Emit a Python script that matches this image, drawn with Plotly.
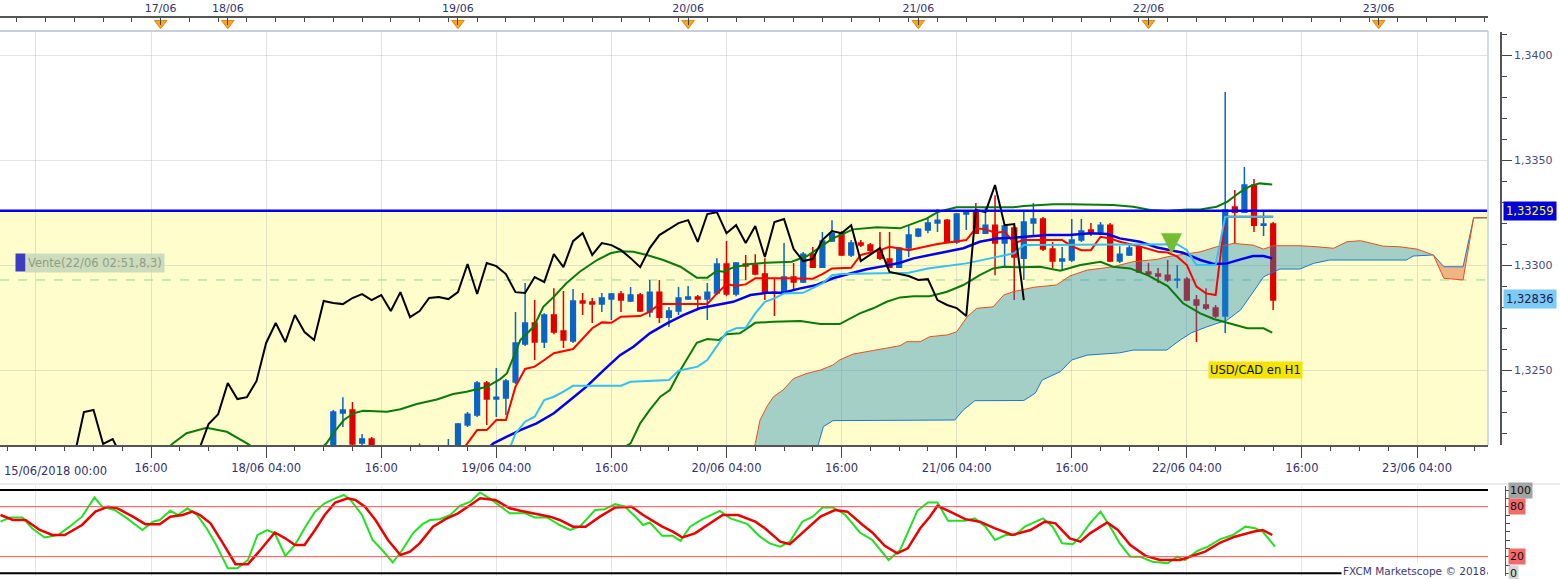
import plotly.graph_objects as go

# ---- donnees (USD/CAD, H1) ----
# index de barre horaire : 16 = 15/06 16:00, 28 = 18/06 04:00, ...
bar_t = list(range(26, 134))
open_px = [1.31920, 1.31940, 1.31920, 1.31950, 1.31970, 1.31990, 1.32020, 1.32040, 1.32060,
           1.32090, 1.32295, 1.32310, 1.32152, 1.32171, 1.32080, 1.32060, 1.32050, 1.32040, 1.32100, 1.32070, 1.32100, 1.32080,
           1.32120, 1.32238, 1.32286, 1.32438, 1.32362, 1.32367, 1.32443, 1.32624, 1.32724, 1.32633, 1.32762, 1.32686, 1.32638,
           1.32829, 1.32824, 1.32814, 1.32838, 1.32862, 1.32829, 1.32857, 1.32776, 1.32871, 1.32752, 1.32781, 1.32838, 1.32848,
           1.32838, 1.32867, 1.33005, 1.32862, 1.33005, 1.33000, 1.32957, 1.32871, 1.32871, 1.32943, 1.32919, 1.33052, 1.32990,
           1.33114, 1.33152, 1.33048, 1.33105, 1.33095, 1.33071, 1.33029, 1.32990, 1.33081, 1.33138, 1.33167, 1.33200, 1.33214,
           1.33110, 1.33243, 1.33252, 1.33152, 1.33190, 1.33105, 1.33176, 1.33033, 1.33200, 1.33219, 1.33076, 1.33019, 1.33024,
           1.33119, 1.33167, 1.33152, 1.33190, 1.33019, 1.33048, 1.33086, 1.32967, 1.32957, 1.32952, 1.32929, 1.32933, 1.32833,
           1.32810, 1.32795, 1.32757, 1.33276, 1.33252, 1.33381, 1.33190, 1.33195]
high_px = [1.31960, 1.31970, 1.31960, 1.31990, 1.32010, 1.32030, 1.32060, 1.32080, 1.32110,
           1.32310, 1.32371, 1.32348, 1.32195, 1.32181, 1.32120, 1.32110, 1.32100, 1.32110, 1.32150, 1.32120, 1.32130, 1.32171,
           1.32248, 1.32300, 1.32448, 1.32448, 1.32510, 1.32457, 1.32776, 1.32914, 1.32833, 1.32771, 1.32890, 1.32876, 1.32886,
           1.32867, 1.32843, 1.32867, 1.32867, 1.32876, 1.32895, 1.32867, 1.32929, 1.32929, 1.32800, 1.32895, 1.32900, 1.32857,
           1.32914, 1.33033, 1.33114, 1.33014, 1.33048, 1.33052, 1.33033, 1.32938, 1.33105, 1.33010, 1.33062, 1.33086, 1.33157,
           1.33214, 1.33162, 1.33119, 1.33119, 1.33105, 1.33157, 1.33157, 1.33086, 1.33190, 1.33176, 1.33224, 1.33267, 1.33219,
           1.33248, 1.33257, 1.33295, 1.33271, 1.33333, 1.33195, 1.33186, 1.33262, 1.33295, 1.33229, 1.33110, 1.33086, 1.33219,
           1.33219, 1.33200, 1.33205, 1.33200, 1.33090, 1.33100, 1.33095, 1.33010, 1.32986, 1.33024, 1.33000, 1.32943, 1.32857,
           1.32890, 1.32810, 1.33824, 1.33357, 1.33467, 1.33410, 1.33257, 1.33205]
low_px = [1.31890, 1.31900, 1.31880, 1.31920, 1.31940, 1.31960, 1.31990, 1.32010, 1.32030,
          1.32050, 1.32229, 1.32080, 1.32133, 1.32040, 1.32030, 1.32020, 1.32010, 1.32000, 1.32040, 1.32030, 1.32050, 1.32040,
          1.32100, 1.32229, 1.32276, 1.32238, 1.32276, 1.32286, 1.32433, 1.32614, 1.32548, 1.32605, 1.32671, 1.32605, 1.32629,
          1.32762, 1.32724, 1.32776, 1.32738, 1.32776, 1.32824, 1.32776, 1.32752, 1.32724, 1.32705, 1.32762, 1.32833, 1.32786,
          1.32738, 1.32857, 1.32852, 1.32852, 1.32929, 1.32952, 1.32833, 1.32757, 1.32862, 1.32881, 1.32914, 1.32986, 1.32986,
          1.33110, 1.33043, 1.33038, 1.33086, 1.33062, 1.33024, 1.32986, 1.32986, 1.33038, 1.33133, 1.33152, 1.33157, 1.33105,
          1.33100, 1.33167, 1.33148, 1.33148, 1.32952, 1.32990, 1.32833, 1.32929, 1.33143, 1.33067, 1.32986, 1.32976, 1.33014,
          1.33110, 1.33138, 1.33148, 1.33014, 1.33010, 1.33043, 1.32962, 1.32952, 1.32914, 1.32919, 1.32890, 1.32829, 1.32633,
          1.32786, 1.32748, 1.32676, 1.33105, 1.33248, 1.33157, 1.33138, 1.32786]
close_px = [1.31940, 1.31920, 1.31950, 1.31970, 1.31990, 1.32020, 1.32040, 1.32060, 1.32090,
            1.32300, 1.32310, 1.32148, 1.32171, 1.32080, 1.32060, 1.32050, 1.32040, 1.32090, 1.32070, 1.32100, 1.32080, 1.32120,
            1.32243, 1.32290, 1.32438, 1.32362, 1.32371, 1.32448, 1.32629, 1.32724, 1.32633, 1.32762, 1.32681, 1.32643, 1.32829,
            1.32819, 1.32814, 1.32843, 1.32862, 1.32833, 1.32857, 1.32781, 1.32871, 1.32752, 1.32781, 1.32843, 1.32848, 1.32838,
            1.32871, 1.33005, 1.32862, 1.33010, 1.32995, 1.32957, 1.32871, 1.32867, 1.32943, 1.32919, 1.33052, 1.32990, 1.33114,
            1.33152, 1.33048, 1.33105, 1.33095, 1.33071, 1.33033, 1.32990, 1.33081, 1.33143, 1.33171, 1.33200, 1.33214, 1.33110,
            1.33243, 1.33252, 1.33152, 1.33190, 1.33105, 1.33186, 1.33038, 1.33205, 1.33219, 1.33076, 1.33019, 1.33029, 1.33119,
            1.33162, 1.33152, 1.33190, 1.33019, 1.33052, 1.33081, 1.32967, 1.32957, 1.32948, 1.32929, 1.32933, 1.32833, 1.32810,
            1.32795, 1.32757, 1.33262, 1.33252, 1.33381, 1.33190, 1.33195, 1.32833]
chikou_shift = 26

tenkan_t = [48, 49, 50, 51, 52, 53, 54, 55, 56, 57, 58, 60, 61, 62, 63, 64, 65, 67, 68, 69, 74, 75, 76, 77, 78, 79,
            82, 85, 86, 87, 89, 90, 92, 93, 94, 95, 98, 101, 102, 103, 104, 105, 106, 107, 111, 112, 113, 114, 115,
            116, 117, 118, 119, 121, 122, 123, 124, 125, 126, 127, 128, 133]
tenkan_v = [1.32090, 1.32151, 1.32214, 1.32214, 1.32262, 1.32262, 1.32421, 1.32505, 1.32516, 1.32548, 1.32580,
            1.32600, 1.32651, 1.32699, 1.32727, 1.32725, 1.32754, 1.32757, 1.32778, 1.32814, 1.32814, 1.32865, 1.32908,
            1.32901, 1.32908, 1.32937, 1.32937, 1.32935, 1.32957, 1.32984, 1.32987, 1.33048, 1.33071, 1.33087, 1.33079,
            1.33071, 1.33100, 1.33119, 1.33175, 1.33170, 1.33154, 1.33159, 1.33105, 1.33119, 1.33119, 1.33090, 1.33071,
            1.33071, 1.33135, 1.33127, 1.33111, 1.33100, 1.33090, 1.33063, 1.33060, 1.33040, 1.33000, 1.32897, 1.32865,
            1.32857, 1.33230, 1.33230]

kijun_t = [53, 54, 55, 56, 57, 58, 59, 60, 65, 66, 70, 71, 73, 74, 76, 77, 78, 79, 80, 81, 82, 84, 86, 87, 88,
           95, 97, 101, 103, 106, 107, 123, 124, 125, 127, 128, 133]
kijun_v = [1.32080, 1.32198, 1.32254, 1.32278, 1.32357, 1.32373, 1.32397, 1.32425, 1.32425, 1.32444, 1.32452,
           1.32497, 1.32516, 1.32548, 1.32680, 1.32699, 1.32701, 1.32770, 1.32825, 1.32841, 1.32865, 1.32868, 1.32913,
           1.32952, 1.32957, 1.32963, 1.32984, 1.33008, 1.33027, 1.33056, 1.33095, 1.33099, 1.33071, 1.33000, 1.33000,
           1.33230, 1.33230]

ma_t = [50.0, 51.7, 53.1, 54.5, 56.2, 58.0, 59.7, 61.4, 63.2, 64.9, 66.3, 68.0, 69.8, 71.5, 73.2, 75.0, 76.7, 78.5,
        80.2, 81.9, 83.7, 85.4, 87.1, 88.9, 90.6, 92.4, 94.1, 95.5, 97.2, 99.0, 100.7, 102.4, 104.2, 105.9, 107.7,
        109.4, 111.8, 113.9, 115.7, 117.0, 119.1, 120.9, 123.6, 125.4, 126.8, 128.2, 129.6, 130.9, 132.0, 132.9]
ma_v = [1.32080, 1.32151, 1.32183, 1.32214, 1.32246, 1.32294, 1.32357, 1.32421, 1.32500, 1.32571, 1.32611, 1.32675,
        1.32722, 1.32762, 1.32794, 1.32810, 1.32825, 1.32857, 1.32868, 1.32868, 1.32889, 1.32905, 1.32937, 1.32960,
        1.32980, 1.32995, 1.33011, 1.33032, 1.33048, 1.33063, 1.33080, 1.33111, 1.33127, 1.33130, 1.33138, 1.33143,
        1.33143, 1.33151, 1.33148, 1.33127, 1.33111, 1.33084, 1.33059, 1.33024, 1.33005, 1.33008, 1.33027, 1.33043,
        1.33043, 1.33032]

bb_up_t = [16.0, 18.3, 19.7, 21.8, 23.9, 26.0, 29.0, 32.5, 34.3, 35.0, 36.1, 37.1, 38.1, 40.6, 42.0, 43.7, 45.8,
           47.5, 48.9, 51.0, 52.4, 53.1, 53.8, 54.5, 55.9, 56.9, 58.0, 59.3, 60.7, 62.5, 63.9, 64.9, 66.3, 67.7,
           69.4, 71.2, 72.9, 74.0, 75.0, 75.7, 76.7, 78.5, 80.2, 82.8, 84.4, 85.8, 87.1, 89.2, 91.7, 94.1, 95.5,
           96.9, 98.1, 100.0, 105.9, 107.0, 110.1, 111.8, 116.3, 118.4, 120.2, 121.9, 124.0, 125.4, 127.1, 128.2,
           129.6, 130.6, 131.6, 132.9]
bb_up_v = [1.32060, 1.32151, 1.32199, 1.32225, 1.32206, 1.32151, 1.32060, 1.32080, 1.32151, 1.32199, 1.32262,
           1.32294, 1.32306, 1.32301, 1.32313, 1.32338, 1.32360, 1.32386, 1.32397, 1.32420, 1.32457, 1.32484,
           1.32563, 1.32643, 1.32706, 1.32801, 1.32849, 1.32913, 1.32968, 1.33024, 1.33056, 1.33066, 1.33063,
           1.33048, 1.33024, 1.32992, 1.32940, 1.32940, 1.32973, 1.32968, 1.32989, 1.33005, 1.33011, 1.33016,
           1.33043, 1.33087, 1.33127, 1.33170, 1.33180, 1.33175, 1.33199, 1.33222, 1.33254, 1.33275, 1.33275,
           1.33281, 1.33290, 1.33290, 1.33286, 1.33278, 1.33262, 1.33257, 1.33265, 1.33265, 1.33278, 1.33301,
           1.33349, 1.33376, 1.33389, 1.33384]

bb_dn_t = [60.0, 66.0, 67.0, 68.0, 69.1, 70.1, 71.2, 72.2, 72.9, 74.0, 75.2, 76.0, 77.4, 79.0, 80.9, 83.7, 85.8,
           87.8, 89.9, 91.3, 92.7, 94.1, 95.5, 97.2, 99.0, 100.7, 102.4, 103.8, 104.9, 106.6, 108.7, 110.8, 112.9,
           115.0, 116.3, 118.1, 120.0, 122.0, 123.6, 125.4, 126.8, 128.5, 130.3, 132.0, 132.9]
bb_dn_v = [1.31980, 1.32151, 1.32246, 1.32310, 1.32373, 1.32405, 1.32500, 1.32580, 1.32630, 1.32648, 1.32643,
           1.32671, 1.32675, 1.32725, 1.32730, 1.32733, 1.32719, 1.32719, 1.32770, 1.32794, 1.32825, 1.32846,
           1.32852, 1.32852, 1.32873, 1.32905, 1.32952, 1.32984, 1.32992, 1.32989, 1.32992, 1.32973, 1.33000,
           1.33016, 1.32992, 1.32984, 1.32950, 1.32900, 1.32818, 1.32770, 1.32743, 1.32722, 1.32699, 1.32699,
           1.32678]

span_a_t = [75.0, 78.5, 79.0, 79.5, 80.2, 80.9, 81.9, 83.0, 84.4, 85.8, 87.1, 87.8, 89.2, 90.6, 92.4, 94.1, 94.8,
            96.2, 97.2, 99.0, 100.0, 101.1, 102.1, 103.8, 104.9, 105.9, 108.0, 110.4, 111.8, 113.6, 115.0, 116.3,
            118.4, 120.9, 122.0, 124.0, 125.4, 127.1, 128.9, 130.9, 132.0, 133.0, 135.8, 137.6, 139.3, 140.7, 142.1,
            144.5, 146.2, 148.0, 149.7, 150.8, 152.8, 153.9, 155.3]
span_a_v = [1.31960, 1.32060, 1.32151, 1.32262, 1.32325, 1.32373, 1.32405, 1.32460, 1.32484, 1.32500, 1.32524,
            1.32548, 1.32576, 1.32587, 1.32603, 1.32616, 1.32635, 1.32635, 1.32659, 1.32667, 1.32682, 1.32754,
            1.32794, 1.32801, 1.32857, 1.32873, 1.32894, 1.32905, 1.32948, 1.32976, 1.32984, 1.32992, 1.33016,
            1.33027, 1.33040, 1.33052, 1.33063, 1.33087, 1.33103, 1.33095, 1.33076, 1.33092, 1.33092, 1.33087,
            1.33080, 1.33111, 1.33116, 1.33090, 1.33087, 1.33076, 1.33048, 1.32937, 1.32929, 1.33225, 1.33225]

span_b_t = [75.0, 85.0, 85.6, 86.1, 87.1, 99.8, 100.7, 101.9, 107.0, 108.2, 108.9, 110.8, 112.0, 113.6, 117.0,
            118.4, 121.9, 123.3, 124.5, 126.1, 128.2, 129.6, 131.3, 132.0, 133.7, 135.8, 137.2, 138.9, 146.9,
            147.6, 149.7, 150.8, 152.8, 153.9, 155.3]
span_b_v = [1.31900, 1.32000, 1.32151, 1.32230, 1.32259, 1.32262, 1.32310, 1.32354, 1.32355, 1.32390, 1.32452,
            1.32492, 1.32548, 1.32571, 1.32582, 1.32595, 1.32595, 1.32643, 1.32678, 1.32706, 1.32738, 1.32786,
            1.32897, 1.32944, 1.32981, 1.32981, 1.33008, 1.33024, 1.33024, 1.33043, 1.33048, 1.32992, 1.32992,
            1.33225, 1.33225]

stoch_k_t = [0.3, 1.3, 2.6, 3.6, 4.9, 6.3, 7.5, 8.8, 10.1, 10.9, 12.2, 13.5, 15.1, 16.2, 16.9, 18.0, 18.8, 19.8,
             20.8, 21.9, 22.7, 24.0, 25.0, 26.1, 27.1, 28.1, 28.9, 30.0, 31.0, 32.1, 33.1, 34.1, 35.2, 36.1, 36.8,
             38.0, 39.1, 40.1, 41.2, 42.2, 43.3, 44.3, 45.1, 46.1, 47.2, 48.2, 49.3, 50.3, 51.3, 52.4, 53.4, 55.0,
             56.0, 57.3, 58.6, 59.7, 60.7, 62.3, 63.3, 64.4, 65.4, 66.5, 67.3, 68.0, 69.3, 70.4, 71.2, 72.2, 73.5,
             75.3, 76.4, 78.2, 79.5, 80.5, 81.6, 82.6, 83.9, 85.0, 86.0, 87.1, 88.4, 89.9, 91.2, 92.9, 94.1, 95.9,
             97.0, 98.0, 99.1, 100.9, 101.9, 103.0, 104.0, 105.1, 106.1, 107.1, 109.0, 110.0, 111.0, 112.1, 112.9,
             113.9, 115.0, 116.0, 117.0, 118.1, 119.1, 120.4, 122.0, 123.0, 123.8, 125.1, 126.2, 127.5, 128.8,
             130.1, 131.1, 131.9, 133.2]
stoch_k_v = [62, 67, 67, 54, 43, 46, 56, 68, 91, 80, 76, 66, 52, 62, 64, 75, 70, 78, 70, 52, 36, 6, 6, 16, 46,
             52, 48, 21, 34, 56, 74, 84, 90, 94, 88, 70, 40, 28, 13, 28, 48, 59, 64, 65, 70, 81, 86, 97, 90, 80,
             72, 72, 67, 67, 58, 52, 56, 76, 77, 83, 80, 68, 58, 61, 45, 45, 39, 56, 65, 75, 66, 59, 44, 36, 32,
             38, 62, 68, 79, 79, 70, 49, 40, 16, 28, 75, 85, 85, 63, 63, 66, 56, 40, 46, 46, 56, 66, 56, 36, 35,
             44, 60, 74, 56, 36, 20, 20, 14, 12, 20, 16, 27, 32, 41, 46, 56, 54, 50, 32]
stoch_d_t = [0.3, 1.6, 2.9, 4.4, 5.7, 7.0, 8.8, 10.2, 11.5, 12.5, 14.1, 15.4, 16.9, 18.0, 19.3, 20.3, 21.1, 22.2,
             23.5, 24.8, 26.1, 27.4, 28.9, 30.0, 31.0, 32.0, 33.1, 34.1, 35.2, 36.5, 37.3, 38.3, 39.4, 40.7, 42.0,
             43.0, 44.0, 45.4, 46.7, 48.0, 49.3, 50.3, 51.9, 53.4, 54.5, 56.0, 57.6, 58.6, 60.0, 61.3, 62.8, 64.4,
             66.1, 67.3, 69.3, 70.4, 71.4, 72.7, 74.3, 75.6, 77.2, 79.0, 80.0, 81.6, 82.6, 84.2, 85.8, 87.3, 88.6,
             90.2, 91.2, 92.5, 93.8, 94.9, 96.2, 97.2, 98.0, 99.3, 100.9, 102.4, 104.0, 105.8, 107.7, 109.2, 110.3,
             111.8, 112.9, 113.9, 115.7, 116.8, 118.1, 119.7, 121.2, 123.3, 124.3, 125.9, 127.5, 129.0, 130.9,
             131.9, 132.9]
stoch_d_v = [70, 64, 64, 52, 46, 46, 58, 74, 80, 78, 68, 59, 59, 68, 70, 74, 70, 60, 36, 11, 11, 28, 49, 42, 34,
             34, 52, 70, 85, 90, 88, 80, 64, 40, 22, 26, 36, 56, 65, 72, 82, 90, 88, 78, 75, 72, 68, 64, 56, 56,
             68, 79, 80, 70, 56, 50, 43, 48, 60, 70, 70, 62, 54, 38, 35, 52, 68, 76, 74, 58, 49, 33, 24, 30, 54,
             68, 81, 74, 65, 62, 54, 46, 52, 62, 60, 42, 38, 48, 61, 52, 34, 21, 16, 16, 20, 26, 37, 44, 50, 52, 46]

level_sell = 1.33259
level_last = 1.32836
level_dash = 1.32929
signal_t, signal_v = 122.4, 1.33052

time_ticks = list(range(4, 156, 12))
time_labels = ["", "16:00", "18/06 04:00", "16:00", "19/06 04:00", "16:00", "20/06 04:00", "16:00",
               "21/06 04:00", "16:00", "22/06 04:00", "16:00", "23/06 04:00"]
day_ticks = [17, 24, 48, 72, 96, 120, 144]
day_labels = ["17/06", "18/06", "19/06", "20/06", "21/06", "22/06", "23/06"]
price_ticks = [1.3250, 1.3300, 1.3350, 1.3400]
price_labels = ["1,3250", "1,3300", "1,3350", "1,3400"]

# ---- mise en page ----
X_END = 1488 / 1560
X_RANGE = [0.25, 155.4]
Y_RANGE = [1.32143, 1.34110]
FONT = "DejaVu Sans"
TXT = "#33336E"

fig = go.Figure()

# bougies (le nuage translucide passe par-dessus)
fig.add_trace(go.Candlestick(
    x=bar_t, open=open_px, high=high_px, low=low_px, close=close_px,
    increasing=dict(line=dict(color="#0A64C8", width=1.5), fillcolor="#0A64C8"),
    decreasing=dict(line=dict(color="#E00000", width=1.5), fillcolor="#E00000"),
    whiskerwidth=0))

# nuage ichimoku : remplissage translucide
ka, kb = span_a_t.index(149.7), span_b_t.index(149.7)
ka2, kb2 = span_a_t.index(153.9), span_b_t.index(153.9)
fig.add_trace(go.Scatter(x=span_b_t[:kb + 1], y=span_b_v[:kb + 1], mode="lines", line=dict(width=0)))
fig.add_trace(go.Scatter(x=span_a_t[:ka + 1], y=span_a_v[:ka + 1], mode="lines", line=dict(width=0),
                         fill="tonexty", fillcolor="rgba(27,137,193,0.4)"))
fig.add_trace(go.Scatter(x=span_b_t[kb:kb2 + 1], y=span_b_v[kb:kb2 + 1], mode="lines", line=dict(width=0)))
fig.add_trace(go.Scatter(x=span_a_t[ka:ka2 + 1], y=span_a_v[ka:ka2 + 1], mode="lines", line=dict(width=0),
                         fill="tonexty", fillcolor="rgba(222,93,42,0.45)"))
fig.add_trace(go.Scatter(x=span_b_t, y=span_b_v, mode="lines", line=dict(color="#1B7BC6", width=1)))
fig.add_trace(go.Scatter(x=span_a_t, y=span_a_v, mode="lines", line=dict(color="#E8501E", width=1)))

# bandes
fig.add_trace(go.Scatter(x=bb_up_t, y=bb_up_v, mode="lines", line=dict(color="#0A7A0A", width=2)))
fig.add_trace(go.Scatter(x=bb_dn_t, y=bb_dn_v, mode="lines", line=dict(color="#0A7A0A", width=2)))

# lignes ichimoku / moyenne
fig.add_trace(go.Scatter(x=tenkan_t, y=tenkan_v, mode="lines", line=dict(color="#FF0000", width=2)))
fig.add_trace(go.Scatter(x=ma_t, y=ma_v, mode="lines", line=dict(color="#0000EE", width=2.5)))
fig.add_trace(go.Scatter(x=kijun_t, y=kijun_v, mode="lines", line=dict(color="#33C0F5", width=2)))
fig.add_trace(go.Scatter(x=[t - chikou_shift for t in bar_t], y=close_px, mode="lines",
                         line=dict(color="#000000", width=2)))

# oscillateur
fig.add_trace(go.Scatter(x=stoch_k_t, y=stoch_k_v, mode="lines", line=dict(color="#22E022", width=2),
                         xaxis="x2", yaxis="y2"))
fig.add_trace(go.Scatter(x=stoch_d_t, y=stoch_d_v, mode="lines", line=dict(color="#EE0000", width=2.5),
                         xaxis="x2", yaxis="y2"))

# reglette du haut
fig.add_trace(go.Scatter(x=day_ticks, y=[0.6] * len(day_ticks), mode="markers", xaxis="x3", yaxis="y3",
                         marker=dict(symbol="triangle-down", size=11, color="#F7A325",
                                     line=dict(color="#E08A10", width=1))))

shapes = [
    dict(type="rect", xref="paper", yref="y", x0=0, x1=X_END, y0=Y_RANGE[0], y1=level_sell,
         fillcolor="#FFFDCB", line=dict(width=0), layer="below"),
    dict(type="line", xref="paper", yref="y", x0=0, x1=X_END, y0=level_dash, y1=level_dash,
         line=dict(color="#96D496", width=1, dash="dash"), layer="below"),
    dict(type="line", xref="paper", yref="y", x0=0, x1=X_END, y0=level_sell, y1=level_sell,
         line=dict(color="#0000F0", width=2.5)),
    dict(type="line", xref="paper", yref="paper", x0=0, x1=X_END, y0=1 - 31 / 579, y1=1 - 31 / 579,
         line=dict(color="#C8D0DC", width=2)),
    dict(type="line", xref="paper", yref="paper", x0=X_END, x1=X_END, y0=1 - 445 / 579, y1=1 - 31 / 579,
         line=dict(color="#D2DAE6", width=2)),
    dict(type="line", xref="paper", yref="paper", x0=0, x1=1, y0=1 - 484 / 579, y1=1 - 484 / 579,
         line=dict(color="#D8D8D8", width=1)),
]
for lvl, col, w in [(100, "#000000", 2), (0, "#000000", 2), (80, "#FF5050", 1), (20, "#FF5050", 1)]:
    shapes.append(dict(type="line", xref="paper", yref="y2", x0=0, x1=X_END, y0=lvl, y1=lvl,
                       line=dict(color=col, width=w)))

annotations = [
    dict(text="15/06/2018 00:00", xref="paper", yref="paper", x=0.001, y=1 - 471 / 579,
         xanchor="left", yanchor="middle", showarrow=False, font=dict(family=FONT, size=11.5, color=TXT)),
    dict(text=" ", xref="paper", yref="y", x=15 / 1560, y=1.33010, xanchor="left", yanchor="middle",
         showarrow=False, width=9, height=17, bgcolor="#3C3CC0", borderpad=0),
    dict(text="Vente(22/06 02:51,8,3)", xref="paper", yref="y", x=25 / 1560, y=1.33010, xanchor="left",
         yanchor="middle", showarrow=False, bgcolor="rgba(196,214,186,0.85)", borderpad=2,
         font=dict(family=FONT, size=11.5, color="#8E9E80")),
    # fleche du signal de vente
    dict(text="", x=signal_t, y=signal_v, xref="x", yref="y", showarrow=True, ax=0, ay=-16,
         arrowhead=2, arrowsize=0.6, arrowwidth=7, arrowcolor="#74BC34"),
    dict(text="USD/CAD en H1", x=131.2, y=1.32500, xref="x", yref="y", showarrow=False,
         bgcolor="#F5E400", borderpad=1, font=dict(family=FONT, size=11.5, color="#111111")),
    dict(text="1,33259", xref="paper", yref="y", x=1503 / 1560, y=level_sell, xanchor="left",
         yanchor="middle", showarrow=False, bgcolor="#0000DC", borderpad=2,
         font=dict(family=FONT, size=11.5, color="#FFFF00")),
    dict(text="1,32836", xref="paper", yref="y", x=1503 / 1560, y=level_last, xanchor="left",
         yanchor="middle", showarrow=False, bgcolor="#7CCBF5", borderpad=2,
         font=dict(family=FONT, size=11.5, color="#1A1A50")),
    dict(text="FXCM Marketscope © 2018", xref="paper", yref="paper", x=X_END, y=1 - 571 / 579,
         xanchor="right", yanchor="middle", showarrow=False, bgcolor="#FFFFFF",
         font=dict(family=FONT, size=10.5, color="#3A3A70")),
]
for lvl, bg in [(100, "#A4A4A4"), (80, "#F26A6A"), (20, "#F26A6A"), (0, "#D4D4D4")]:
    annotations.append(dict(text=str(lvl), xref="paper", yref="y2", x=1508 / 1560, y=lvl, xanchor="left",
                            yanchor="middle", showarrow=False, bgcolor=bg, borderpad=1,
                            font=dict(family=FONT, size=11, color="#111111")))

fig.update_layout(
    width=1560, height=579, margin=dict(l=0, r=0, t=0, b=0),
    paper_bgcolor="#FFFFFF", plot_bgcolor="#FFFFFF", showlegend=False, hovermode=False,
    font=dict(family=FONT, size=11, color=TXT),
    shapes=shapes, annotations=annotations,
    xaxis=dict(domain=[0, X_END], range=X_RANGE, anchor="y", rangeslider=dict(visible=False),
               tickmode="array", tickvals=time_ticks, ticktext=time_labels,
               showgrid=True, gridcolor="rgba(190,190,190,0.45)", zeroline=False,
               ticks="outside", ticklen=11, tickcolor="#444", showline=True, linecolor="#555", linewidth=1.5,
               tickfont=dict(size=11.5, color=TXT),
               minor=dict(tickmode="array", tickvals=list(range(1, 156, 3)), ticks="outside",
                          ticklen=4, tickcolor="#444", showgrid=False)),
    yaxis=dict(domain=[1 - 445 / 579, 1 - 32 / 579], range=Y_RANGE, anchor="free", position=1501 / 1560,
               side="right", tickmode="array", tickvals=price_ticks, ticktext=price_labels,
               showgrid=True, gridcolor="rgba(190,190,190,0.45)", zeroline=False,
               ticks="outside", ticklen=10, tickcolor="#444", showline=True, linecolor="#555", linewidth=1.5,
               tickfont=dict(size=11, color="#4A4A7A"),
               minor=dict(tickmode="array", tickvals=[round(1.322 + 0.001 * i, 3) for i in range(20)],
                          ticks="outside", ticklen=5, tickcolor="#444", showgrid=False)),
    xaxis2=dict(domain=[0, X_END], range=X_RANGE, anchor="y2", matches="x",
                tickmode="array", tickvals=time_ticks, showticklabels=False, ticks="",
                showgrid=True, gridcolor="#E4E4E4", zeroline=False, showline=False),
    yaxis2=dict(domain=[3 / 579, 1 - 486 / 579], range=[-3.2, 104.8], anchor="free", position=1505 / 1560,
                side="right", tickmode="array", tickvals=list(range(0, 101, 10)), showticklabels=False,
                ticks="outside", ticklen=4, tickcolor="#444", showline=True, linecolor="#555",
                showgrid=False, zeroline=False),
    xaxis3=dict(domain=[0, X_END], range=X_RANGE, anchor="y3", matches="x", side="top",
                tickmode="array", tickvals=day_ticks, ticktext=day_labels,
                ticks="inside", ticklen=7, tickcolor="#444", showline=True, linecolor="#555", linewidth=1.5,
                showgrid=False, zeroline=False, tickfont=dict(size=11, color=TXT),
                minor=dict(tickmode="array", tickvals=list(range(2, 156, 3)), ticks="inside",
                           ticklen=4, tickcolor="#444", showgrid=False)),
    yaxis3=dict(domain=[1 - 31 / 579, 1 - 18 / 579], range=[0, 1], anchor="x3", visible=False),
)

# la page html garde sinon la marge de 8 px du navigateur
fig.write_html("out.html", config={"displayModeBar": False},
               post_script="document.body.style.margin='0';document.body.style.overflow='hidden';")
